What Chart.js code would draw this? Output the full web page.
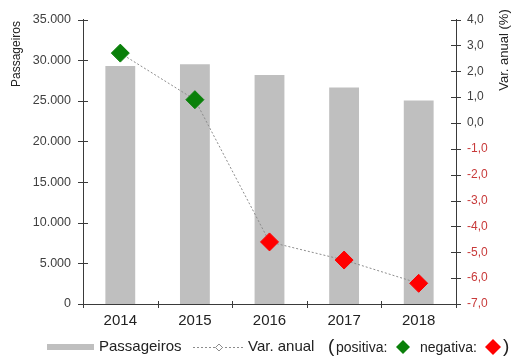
<!DOCTYPE html>
<html>
<head>
<meta charset="utf-8">
<script src="https://cdn.jsdelivr.net/npm/chart.js@4/dist/chart.umd.min.js"></script>
<style>
  html, body { margin: 0; padding: 0; background: #ffffff; }
  #wrap { position: relative; width: 515px; height: 358px; }
</style>
</head>
<body>
<div id="wrap"><canvas id="c" width="515" height="358"></canvas></div>
<script>
// Annual passengers and their year-on-year change
const years = ['2014', '2015', '2016', '2017', '2018'];
const passageiros = [29270, 29480, 28170, 26620, 25040];
const varAnual = [2.7, 0.9, -4.6, -5.3, -6.2];

const leftAxisTitle = 'Passageiros';
const rightAxisTitle = 'Var. anual (%)';
const legendBarLabel = 'Passageiros';
const legendLineLabel = 'Var. anual';
const legendPosLabel = 'positiva:';
const legendNegLabel = 'negativa:';

const FONT = '"Liberation Sans", Arial, sans-serif';
const AXIS = '#3a3a3a';
const TEXT = '#404040';
const NEG_TEXT = '#c83a3a';
const BAR = '#bfbfbf';
const POS = '#0a800a';
const NEG = '#ff0000';

const fmtThousands = v => {
  const s = String(Math.round(v));
  return s.replace(/\B(?=(\d{3})+(?!\d))/g, '.');
};
const fmtPct = v => {
  const r = Math.round(v * 10) / 10;
  return (r === 0 ? 0 : r).toFixed(1).replace('.', ',');
};

// Tick marks that cross each axis line, plus the rotated axis titles
const axisDecor = {
  id: 'axisDecor',
  afterDraw(chart) {
    const { ctx, chartArea, scales } = chart;
    ctx.save();
    ctx.strokeStyle = AXIS;
    ctx.lineWidth = 1;
    ctx.beginPath();
    // left axis ticks
    scales.y.ticks.forEach(t => {
      const y = Math.round(scales.y.getPixelForValue(t.value)) + 0.5;
      ctx.moveTo(chartArea.left - 5, y);
      ctx.lineTo(chartArea.left + 5, y);
    });
    // right axis ticks
    scales.y1.ticks.forEach(t => {
      const y = Math.round(scales.y1.getPixelForValue(t.value)) + 0.5;
      ctx.moveTo(chartArea.right - 5, y);
      ctx.lineTo(chartArea.right + 5, y);
    });
    // category boundary ticks on the x axis
    const n = years.length;
    const step = (scales.x.getPixelForValue(1) - scales.x.getPixelForValue(0));
    for (let i = 0; i <= n; i++) {
      const x = Math.round(scales.x.getPixelForValue(0) - step / 2 + i * step) + 0.5;
      ctx.moveTo(x, chartArea.bottom - 3);
      ctx.lineTo(x, chartArea.bottom + 4);
    }
    ctx.stroke();

    // axis titles
    ctx.fillStyle = '#222';
    ctx.textAlign = 'center';
    ctx.textBaseline = 'middle';
    ctx.font = '12px ' + FONT;
    ctx.save();
    ctx.translate(17, 54);
    ctx.rotate(-Math.PI / 2);
    ctx.fillText(leftAxisTitle, 0, 0);
    ctx.restore();
    ctx.font = '13px ' + FONT;
    ctx.save();
    ctx.translate(504, 50);
    ctx.rotate(-Math.PI / 2);
    ctx.fillText(rightAxisTitle, 0, 0);
    ctx.restore();
    ctx.restore();
  }
};

function diamond(ctx, x, y, r, fill, stroke) {
  ctx.beginPath();
  ctx.moveTo(x, y - r);
  ctx.lineTo(x + r, y);
  ctx.lineTo(x, y + r);
  ctx.lineTo(x - r, y);
  ctx.closePath();
  ctx.fillStyle = fill;
  ctx.fill();
  if (stroke) { ctx.strokeStyle = stroke; ctx.lineWidth = 1; ctx.stroke(); }
}

// Legend row along the bottom edge
const bottomLegend = {
  id: 'bottomLegend',
  afterDraw(chart) {
    const ctx = chart.ctx;
    const y = 347;
    ctx.save();
    ctx.textBaseline = 'middle';
    ctx.textAlign = 'left';

    ctx.fillStyle = BAR;
    ctx.fillRect(47, y - 3, 47, 6);

    ctx.fillStyle = '#222';
    ctx.font = '15px ' + FONT;
    ctx.fillText(legendBarLabel, 99, y);

    ctx.strokeStyle = '#8c8c8c';
    ctx.lineWidth = 1;
    ctx.setLineDash([2, 2]);
    ctx.beginPath();
    ctx.moveTo(193, y + 0.5);
    ctx.lineTo(245, y + 0.5);
    ctx.stroke();
    ctx.setLineDash([]);
    diamond(ctx, 219, y + 0.5, 3.5, '#ffffff', '#8c8c8c');

    ctx.fillStyle = '#222';
    ctx.font = '15px ' + FONT;
    ctx.fillText(legendLineLabel, 248, y);

    ctx.font = '19px ' + FONT;
    ctx.fillText('(', 328, y);
    ctx.font = '14px ' + FONT;
    ctx.fillText(legendPosLabel, 336, y + 1);
    diamond(ctx, 403, y, 7, POS);
    ctx.fillStyle = '#222';
    ctx.font = '14px ' + FONT;
    ctx.fillText(legendNegLabel, 420, y + 1);
    diamond(ctx, 493, y, 8, NEG);
    ctx.fillStyle = '#222';
    ctx.font = '19px ' + FONT;
    ctx.fillText(')', 503, y);
    ctx.restore();
  }
};

const pointColors = varAnual.map(v => (v >= 0 ? POS : NEG));

new Chart(document.getElementById('c'), {
  data: {
    labels: years,
    datasets: [
      {
        type: 'line',
        label: legendLineLabel,
        data: varAnual,
        yAxisID: 'y1',
        order: 0,
        borderColor: '#8c8c8c',
        borderWidth: 1,
        borderDash: [2, 2],
        tension: 0,
        fill: false,
        pointStyle: 'rectRot',
        pointRadius: 9,
        pointHoverRadius: 9,
        pointBackgroundColor: pointColors,
        pointBorderColor: pointColors,
        pointBorderWidth: 1
      },
      {
        type: 'bar',
        label: legendBarLabel,
        data: passageiros,
        yAxisID: 'y',
        order: 1,
        backgroundColor: BAR,
        borderWidth: 0,
        categoryPercentage: 0.8,
        barPercentage: 0.5
      }
    ]
  },
  options: {
    responsive: false,
    animation: false,
    events: [],
    layout: { padding: { top: 17, left: 0, right: 0, bottom: 0 } },
    plugins: { legend: { display: false }, tooltip: { enabled: false } },
    scales: {
      x: {
        type: 'category',
        offset: true,
        grid: { display: false, drawTicks: false },
        border: { display: true, color: AXIS, width: 1 },
        ticks: { color: '#222', font: { family: FONT, size: 15 }, padding: 8, maxRotation: 0 },
        afterFit: s => { s.height = 54; }
      },
      y: {
        position: 'left',
        min: 0,
        max: 35000,
        grid: { display: false, drawTicks: false },
        border: { display: true, color: AXIS, width: 1 },
        ticks: {
          stepSize: 5000,
          color: TEXT,
          font: { family: FONT, size: 12.5 },
          padding: 12,
          callback: v => fmtThousands(v)
        },
        afterFit: s => { s.width = 83; }
      },
      y1: {
        position: 'right',
        min: -7,
        max: 4,
        grid: { display: false, drawTicks: false },
        border: { display: true, color: AXIS, width: 1 },
        ticks: {
          stepSize: 1,
          color: c => (c.tick && c.tick.value < 0 ? NEG_TEXT : TEXT),
          font: { family: FONT, size: 12 },
          padding: 11,
          callback: v => fmtPct(v)
        },
        afterFit: s => { s.width = 59; }
      }
    }
  },
  plugins: [axisDecor, bottomLegend]
});
</script>
</body>
</html>
